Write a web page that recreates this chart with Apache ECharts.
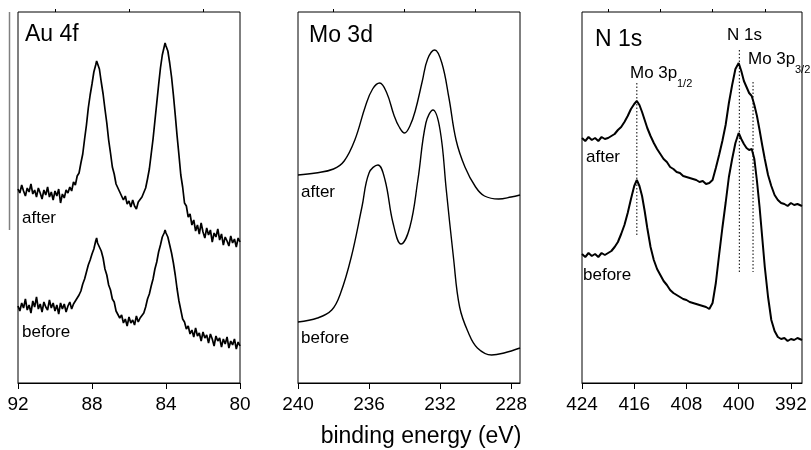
<!DOCTYPE html>
<html>
<head>
<meta charset="utf-8">
<script src="https://cdn.jsdelivr.net/npm/echarts@6/dist/echarts.min.js"></script>
<style>
  html, body { margin: 0; padding: 0; background: #fff; }
  #chart { width: 811px; height: 450px; }
</style>
</head>
<body>
<div id="chart"></div>
<script>
// XPS spectra, binding energy (eV) vs. intensity (arbitrary units), before/after treatment

// Au 4f region
const auAfter = [
  [92.0,194],[91.9,190],[91.8,198],[91.7,192],[91.6,187],[91.5,195],[91.4,191],[91.3,199],
  [91.2,189],[91.1,193],[91.0,186],[90.9,195],[90.8,190],[90.7,184],[90.6,193],[90.5,188],
  [90.4,196],[90.3,186],[90.2,191],[90.1,183],[90.0,192],[89.9,187],[89.8,194],[89.7,180],
  [89.6,189],[89.5,185],[89.4,193],[89.3,190],[89.2,196],[89.1,192],[89.0,201],[88.9,198],
  [88.8,207],[88.7,210],[88.6,220],[88.5,229],[88.4,244],[88.3,258],[88.2,275],[88.1,288],
  [88.0,299],[87.9,311],[87.8,318],[87.75,322],[87.7,320],[87.6,314],[87.5,301],[87.4,289],
  [87.3,274],[87.2,260],[87.1,243],[87.0,230],[86.9,216],[86.8,209],[86.7,199],[86.6,197],
  [86.5,191],[86.4,190],[86.3,183],[86.2,187],[86.1,179],[86.0,182],[85.9,176],[85.8,183],
  [85.7,177],[85.6,174],[85.5,181],[85.4,179],[85.3,186],[85.2,184],[85.1,195],[85.0,204],
  [84.9,214],[84.8,229],[84.7,244],[84.6,262],[84.5,280],[84.4,298],[84.3,315],[84.2,328],
  [84.1,336],[84.05,340],[84.0,337],[83.9,332],[83.8,320],[83.7,306],[83.6,288],[83.5,268],
  [83.4,247],[83.3,228],[83.2,208],[83.1,196],[83.0,180],[82.9,177],[82.8,166],[82.7,169],
  [82.6,158],[82.5,163],[82.4,152],[82.3,158],[82.2,149],[82.1,160],[82.0,151],[81.9,145],
  [81.8,155],[81.7,148],[81.6,153],[81.5,141],[81.4,150],[81.3,146],[81.2,154],[81.1,143],
  [81.0,149],[80.9,138],[80.8,146],[80.7,142],[80.6,137],[80.5,147],[80.4,140],[80.3,144],
  [80.2,136],[80.1,145],[80.0,141]
];
const auBefore = [
  [92.0,77],[91.9,72],[91.8,80],[91.7,75],[91.6,84],[91.5,73],[91.4,78],[91.3,70],
  [91.2,82],[91.1,76],[91.0,86],[90.9,74],[90.8,79],[90.7,71],[90.6,81],[90.5,76],
  [90.4,73],[90.3,83],[90.2,75],[90.1,80],[90.0,72],[89.9,78],[89.8,69],[89.7,80],
  [89.6,74],[89.5,79],[89.4,71],[89.3,77],[89.2,81],[89.1,74],[89.0,79],[88.9,82],
  [88.8,80],[88.7,88],[88.6,92],[88.5,99],[88.4,104],[88.3,111],[88.2,118],[88.1,123],
  [88.0,129],[87.9,134],[87.8,142],[87.75,145],[87.7,140],[87.6,141],[87.5,132],[87.4,125],
  [87.3,114],[87.2,108],[87.1,98],[87.0,93],[86.9,84],[86.8,81],[86.7,72],[86.6,73],
  [86.5,65],[86.4,68],[86.3,60],[86.2,64],[86.1,57],[86.0,66],[85.9,60],[85.8,63],
  [85.7,58],[85.6,67],[85.5,61],[85.4,65],[85.3,63],[85.2,70],[85.1,76],[85.0,84],
  [84.9,89],[84.8,97],[84.7,104],[84.6,114],[84.5,121],[84.4,131],[84.3,138],[84.2,146],
  [84.1,150],[84.05,153],[84.0,150],[83.9,146],[83.8,138],[83.7,130],[83.6,120],[83.5,108],
  [83.4,94],[83.3,82],[83.2,73],[83.1,64],[83.0,61],[82.9,54],[82.8,57],[82.7,49],
  [82.6,53],[82.5,46],[82.4,55],[82.3,47],[82.2,50],[82.1,42],[82.0,51],[81.9,45],
  [81.8,48],[81.7,40],[81.6,49],[81.5,44],[81.4,37],[81.3,47],[81.2,42],[81.1,45],
  [81.0,36],[80.9,44],[80.8,39],[80.7,46],[80.6,35],[80.5,42],[80.4,38],[80.3,44],
  [80.2,34],[80.1,41],[80.0,37]
];

// Mo 3d region
const moAfter = [
  [240.0,208],[239.0,210],[238.0,214],[237.4,222],[236.8,243],[236.2,277],[235.8,294],
  [235.4,300],[235.0,290],[234.6,268],[234.3,256],[234.0,250],[233.7,257],[233.4,272],
  [233.0,302],[232.7,324],[232.3,333],[231.9,320],[231.5,285],[231.1,243],[230.6,216],
  [230.0,196],[229.5,187],[228.7,184],[228.0,186],[227.5,188]
];
const moBefore = [
  [240.0,61],[238.9,65],[238.1,73],[237.6,90],[237.0,126],[236.4,176],[236.0,210],
  [235.5,218],[235.1,203],[234.65,160],[234.2,139],[233.7,156],[233.25,203],[232.8,260],
  [232.4,273],[232.0,253],[231.65,193],[231.25,126],[230.9,76],[230.4,50],[229.9,35],
  [229.1,28],[228.4,30],[227.5,35]
];

// N 1s / Mo 3p region
const nAfter = [
  [424.0,245],[423.5,242],[423.0,246],[422.5,243],[422.0,245],[421.5,242],[421.0,246],
  [420.5,244],[420.0,245],[419.5,247],[419.0,249],[418.5,253],[418.0,256],[417.5,261],
  [417.0,267],[416.5,274],[416.0,279],[415.6,282],[415.2,278],[414.8,271],[414.4,263],
  [414.0,255],[413.5,247],[413.0,240],[412.5,234],[412.0,229],[411.5,224],[411.0,221],
  [410.5,216],[410.0,214],[409.5,211],[409.0,210],[408.5,207],[408.0,206],[407.5,205],
  [407.0,204],[406.5,203],[406.0,201],[405.5,202],[405.0,199],[404.5,200],[404.0,203],
  [403.5,215],[403.0,228],[402.5,242],[402.0,258],[401.5,280],[401.0,298],[400.5,314],
  [400.0,320],[399.6,312],[399.2,302],[398.8,296],[398.4,290],[398.0,287],[397.6,278],
  [397.2,267],[396.8,253],[396.4,238],[396.0,224],[395.5,208],[395.0,197],[394.5,188],
  [394.0,183],[393.5,180],[393.0,179],[392.5,177],[392.0,180],[391.5,178],[391.0,179],
  [390.3,177]
];
const nBefore = [
  [424.0,129],[423.5,126],[423.0,130],[422.5,127],[422.0,129],[421.5,126],[421.0,130],
  [420.5,128],[420.0,130],[419.5,132],[419.0,136],[418.5,141],[418.0,149],[417.5,158],
  [417.0,170],[416.5,184],[416.0,197],[415.6,203],[415.2,197],[414.8,187],[414.4,172],
  [414.0,155],[413.5,136],[413.0,123],[412.5,114],[412.0,108],[411.5,102],[411.0,98],
  [410.5,93],[410.0,90],[409.5,88],[409.0,86],[408.5,84],[408.0,83],[407.5,81],
  [407.0,80],[406.5,79],[406.0,78],[405.5,77],[405.0,76],[404.5,74],[404.0,80],
  [403.5,100],[403.0,128],[402.5,155],[402.0,180],[401.5,206],[401.0,224],[400.5,240],
  [400.0,250],[399.6,244],[399.2,239],[398.8,235],[398.4,233],[398.0,234],[397.6,224],
  [397.2,202],[396.8,176],[396.4,146],[396.0,116],[395.5,86],[395.0,63],[394.5,52],
  [394.0,46],[393.5,44],[393.0,45],[392.5,42],[392.0,44],[391.5,43],[391.0,45],
  [390.3,43]
];

// Peak position markers (energy, top, bottom)
const peakMarks = [
  [415.6, 300, 148],
  [399.9, 333, 111],
  [397.8, 301, 111]
];

// Axis ranges and ticks
const ranges = [[80, 92], [227.5, 240], [390.3, 424]];
const majorTicks = [[92, 88, 84, 80], [240, 236, 232, 228], [424, 416, 408, 400, 392]];
const minorTicks = [[90, 86, 82], [238, 234, 230], [420, 412, 404, 396]];
const panelTitles = ['Au 4f', 'Mo 3d', 'N 1s'];
const intensityMax = 371;

const FONT = '"Liberation Sans", Arial, sans-serif';
const gridBoxes = [
  { left: 18, width: 222 },
  { left: 298, width: 222 },
  { left: 582, width: 220 }
];

const grids = gridBoxes.map(b => ({
  left: b.left, width: b.width, top: 12, bottom: 67,
  show: true, borderColor: '#000', borderWidth: 1, backgroundColor: 'transparent'
}));

const xAxes = [];
ranges.forEach((r, i) => {
  xAxes.push({
    type: 'value', gridIndex: i, min: r[0], max: r[1], inverse: true,
    axisLine: { show: true, lineStyle: { color: '#000', width: 1 } },
    axisTick: { show: true, customValues: majorTicks[i], length: 6, lineStyle: { color: '#000', width: 1 } },
    axisLabel: { show: true, customValues: majorTicks[i], color: '#000', fontSize: 19, fontFamily: FONT, margin: 12 },
    splitLine: { show: false }
  });
  xAxes.push({
    type: 'value', gridIndex: i, min: r[0], max: r[1], inverse: true,
    axisLine: { show: false },
    axisTick: { show: true, customValues: minorTicks[i], length: 3, lineStyle: { color: '#000', width: 1 } },
    axisLabel: { show: false },
    splitLine: { show: false }
  });
});

const yAxes = ranges.map((r, i) => ({
  type: 'value', gridIndex: i, min: 0, max: intensityMax, show: false
}));

function curve(data, panel, width, smooth) {
  return {
    type: 'line', xAxisIndex: panel * 2, yAxisIndex: panel, data: data,
    showSymbol: false, smooth: smooth, silent: true,
    lineStyle: { color: '#000', width: width }
  };
}

const series = [
  curve(auAfter, 0, 1.7, false),
  curve(auBefore, 0, 1.7, false),
  curve(moAfter, 1, 1.4, 0.4),
  curve(moBefore, 1, 1.4, 0.4),
  curve(nAfter, 2, 2, false),
  curve(nBefore, 2, 2, false)
];
peakMarks.forEach(m => {
  series.push({
    type: 'line', xAxisIndex: 4, yAxisIndex: 2, showSymbol: false, silent: true,
    data: [[m[0], m[1]], [m[0], m[2]]],
    lineStyle: { color: '#000', width: 1, type: [1.5, 2] }
  });
});

function txt(x, y, s, size, align) {
  return {
    type: 'text', x: x, y: y, silent: true,
    style: { text: s, fill: '#000', font: size + 'px ' + FONT, textAlign: align || 'left', textVerticalAlign: 'middle' }
  };
}

const graphics = [
  { type: 'line', silent: true, shape: { x1: 9.5, y1: 12, x2: 9.5, y2: 230 }, style: { stroke: '#808080', lineWidth: 1.5 } },
  txt(25, 35, panelTitles[0], 23),
  txt(309, 35.5, panelTitles[1], 23),
  txt(595, 40, panelTitles[2], 23),
  txt(22, 218, 'after', 17),
  txt(22, 332, 'before', 17),
  txt(301, 192.5, 'after', 17),
  txt(301, 338, 'before', 17),
  txt(586, 157.5, 'after', 17),
  txt(583, 275.5, 'before', 17),
  txt(727, 35, 'N 1s', 17),
  txt(630, 73.5, 'Mo 3p', 17),
  txt(677, 84, '1/2', 11),
  txt(748, 59, 'Mo 3p', 17),
  txt(795, 69.5, '3/2', 11),
  txt(421, 437, 'binding energy (eV)', 23, 'center')
];

const chart = echarts.init(document.getElementById('chart'), null, { renderer: 'canvas' });
chart.setOption({
  animation: false,
  backgroundColor: '#fff',
  grid: grids,
  xAxis: xAxes,
  yAxis: yAxes,
  series: series,
  graphic: graphics
});
</script>
</body>
</html>
